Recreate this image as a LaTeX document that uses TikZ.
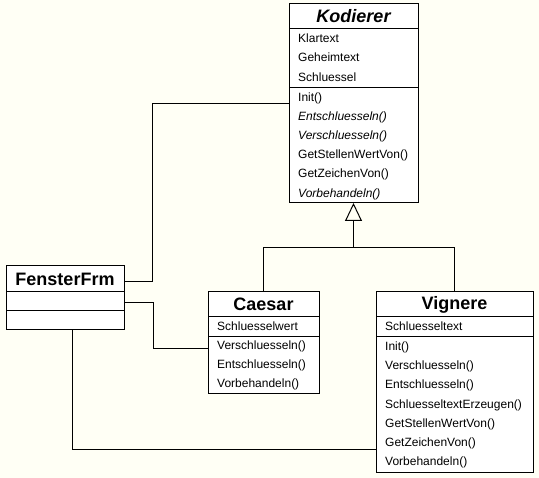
\documentclass[tikz,border=0pt]{standalone}
\usepackage{fontspec}
\setmainfont{Liberation Sans}
\usetikzlibrary{arrows.meta}
\definecolor{paper}{HTML}{FFFFF5}

\begin{document}
\begin{tikzpicture}[x=1pt,y=-1pt,
    box/.style={draw, fill=white, line width=1pt, inner sep=0pt, outer sep=0pt, anchor=north west},
    classname/.style={box, minimum height=25pt, font=\fontsize{18}{20}\selectfont\bfseries},
    item/.style={anchor=west, inner sep=0pt, font=\fontsize{12}{14}\selectfont, text height=9pt, text depth=2pt},
    conn/.style={line width=1pt},
    inherit/.style={line width=1pt, -{Triangle[open, length=18pt, width=17pt]}}
]

\fill[paper] (0,0) rectangle (539,478);

% Kodierer
\node[classname, minimum width=129pt] (kodT) at (289,4) {\itshape Kodierer};
\node[box, minimum width=129pt, minimum height=59pt] (kodA) at (289,29) {};
\node[box, minimum width=129pt, minimum height=115pt] (kodM) at (289,88) {};
\foreach \t [count=\i] in {Klartext, Geheimtext, Schluessel} {
  \node[item] (koda\i) at (298,19.5*\i+19.25) {\t};
}
\foreach \t [count=\i] in {{Init()}, {\itshape Entschluesseln()}, {\itshape Verschluesseln()},
    {GetStellenWertVon()}, {GetZeichenVon()}, {\itshape Vorbehandeln()}} {
  \node[item] (kodm\i) at (298,19.2*\i+78.4) {\t};
}

% Caesar
\node[classname, minimum width=111pt] (caeT) at (208,292) {Caesar};
\node[box, minimum width=111pt, minimum height=20pt] (caeA) at (208,317) {};
\node[box, minimum width=111pt, minimum height=57pt] (caeM) at (208,337) {};
\node[item] (caea1) at (217,327) {Schluesselwert};
\foreach \t [count=\i] in {{Verschluesseln()}, {Entschluesseln()}, {Vorbehandeln()}} {
  \node[item] (caem\i) at (217,19*\i+327.5) {\t};
}

% Vignere
\node[classname, minimum width=157pt] (vigT) at (376,292) {Vignere};
\node[box, minimum width=157pt, minimum height=20pt] (vigA) at (376,317) {};
\node[box, minimum width=157pt, minimum height=136pt] (vigM) at (376,337) {};
\node[item] (viga1) at (385,327) {Schluesseltext};
\foreach \t [count=\i] in {{Init()}, {Verschluesseln()}, {Entschluesseln()}, {SchluesseltextErzeugen()},
    {GetStellenWertVon()}, {GetZeichenVon()}, {Vorbehandeln()}} {
  \node[item] (vigm\i) at (385,19.3*\i+327.35) {\t};
}

% FensterFrm
\node[classname, minimum width=118pt, minimum height=26pt] (fenT) at (6,266) {FensterFrm};
\node[box, minimum width=118pt, minimum height=19pt] (fenA) at (6,292) {};
\node[box, minimum width=118pt, minimum height=19pt] (fenB) at (6,311) {};

% associations
\draw[conn] ([yshift=-3pt]fenT.east) -- ++(28,0) |- ([yshift=-6pt]kodM.west |- kodm1);
\draw[conn] ([yshift=-1.5pt]fenA.east) -- ++(29,0) |- ([yshift=-2.5pt]caeM.west |- caem1);
\draw[conn] ([xshift=7pt]fenB.south) |- ([yshift=-6pt]vigM.west |- vigm6);

% inheritance
\draw[conn] (caeT.north) -- ++(0,-44) -| (vigT.north);
\draw[inherit] ([yshift=-45pt]kodM.south) -- (kodM.south);
\end{tikzpicture}
\end{document}
